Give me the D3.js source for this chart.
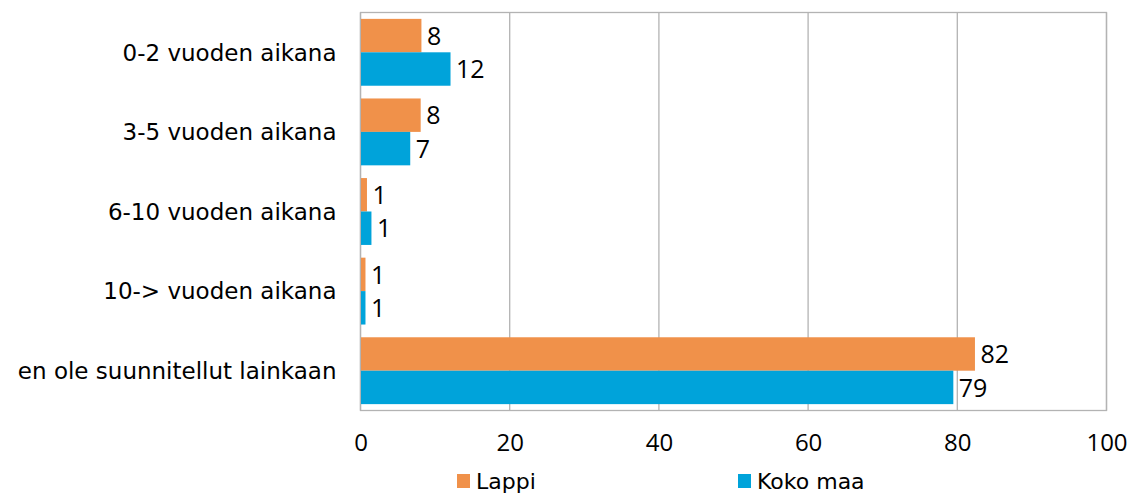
<!DOCTYPE html>
<html>
<head>
<meta charset="utf-8">
<script src="https://cdn.jsdelivr.net/npm/d3@7"></script>
<style>
  body { margin: 0; background: #fff; }
  text { font-family: "DejaVu Sans", sans-serif; fill: #000; }
</style>
</head>
<body>
<svg width="1140" height="495"></svg>
<script>
// data
const categories = ["0-2 vuoden aikana", "3-5 vuoden aikana", "6-10 vuoden aikana", "10-> vuoden aikana", "en ole suunnitellut lainkaan"];
const lappi = [8.1, 8.0, 0.8, 0.6, 82.3];
const kokoMaa = [12.0, 6.6, 1.4, 0.6, 79.4];
const seriesNames = ["Lappi", "Koko maa"];
const seriesColors = ["#F0914A", "#00A3DA"];
const xTicks = [0, 20, 40, 60, 80, 100];

let svg = d3.select("svg");

const plotLeft = 360.5, plotRight = 1106.5, plotTop = 12.5, plotBottom = 410.5;

let x = d3.scaleLinear().domain([0, 100]).range([plotLeft, plotRight]);
let y = d3.scaleBand().domain(categories).range([plotTop, plotBottom]);
const bw = y.bandwidth();
const barH = bw * 0.42;
const barOff = bw * 0.08;

// gridlines
svg.append("g")
    .selectAll("line")
    .data(xTicks)
    .join("line")
    .attr("x1", d => x(d)).attr("x2", d => x(d))
    .attr("y1", plotTop).attr("y2", plotBottom)
    .attr("stroke", "#b3b3b3")
    .attr("stroke-width", 1.3);

// plot frame
svg.append("rect")
    .attr("x", plotLeft).attr("y", plotTop)
    .attr("width", plotRight - plotLeft).attr("height", plotBottom - plotTop)
    .attr("fill", "none")
    .attr("stroke", "#b3b3b3")
    .attr("stroke-width", 1.3);

const series = [lappi, kokoMaa];
const fmt = d => Math.round(d);

series.forEach(function (vals, s) {
    let g = svg.append("g");
    g.selectAll("rect")
        .data(vals)
        .join("rect")
        .attr("x", x(0) + 0.5)
        .attr("y", (d, i) => y(categories[i]) + barOff + s * barH)
        .attr("width", d => x(d) - x(0))
        .attr("height", barH)
        .attr("fill", seriesColors[s]);
    g.selectAll("text")
        .data(vals)
        .join("text")
        .attr("x", d => x(d) + 6)
        .attr("y", (d, i) => y(categories[i]) + barOff + s * barH + barH / 2)
        .attr("dy", "0.37em")
        .style("font-family", "'Open Sans', sans-serif")
        .style("font-size", "25px")
        .text(fmt);
});

// left axis: category labels
let yAxis = d3.axisLeft(y).tickSize(0).tickPadding(24);
let yg = svg.append("g")
    .attr("transform", "translate(" + plotLeft + ",0)")
    .call(yAxis);
yg.select(".domain").remove();
yg.selectAll("text")
    .style("font-family", "'DejaVu Sans', sans-serif")
    .style("font-size", "23px")
    .attr("dy", "0.36em");

// bottom axis: value ticks
let xAxis = d3.axisBottom(x).tickValues(xTicks).tickSize(0).tickPadding(23);
let xg = svg.append("g")
    .attr("transform", "translate(0," + plotBottom + ")")
    .call(xAxis);
xg.select(".domain").remove();
xg.selectAll("text")
    .style("font-family", "'Open Sans', sans-serif")
    .style("font-size", "24px");

// legend
const legendX = [457, 738];
let legend = svg.append("g")
    .selectAll("g")
    .data(seriesNames)
    .join("g")
    .attr("transform", (d, i) => "translate(" + legendX[i] + ",474)");
legend.append("rect")
    .attr("width", 13).attr("height", 14)
    .attr("fill", (d, i) => seriesColors[i]);
legend.append("text")
    .attr("x", 19).attr("y", 15)
    .style("font-family", "'DejaVu Sans', sans-serif")
    .style("font-size", "22px")
    .text(d => d);
</script>
</body>
</html>
